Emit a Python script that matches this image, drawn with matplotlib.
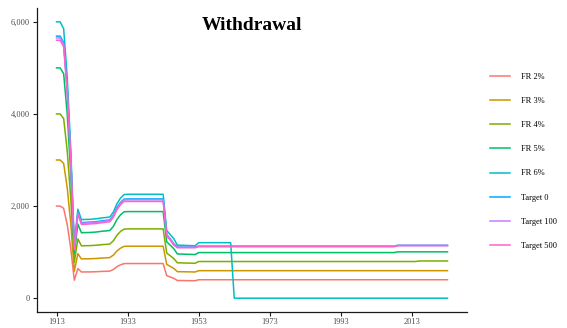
import matplotlib
matplotlib.use("Agg")
import matplotlib.pyplot as plt

years = list(range(1913, 2024))

fr2 = [
    2000, 2000, 1950, 1600, 1080, 390, 644, 568, 570, 570,
    572, 574, 578, 582, 584, 588, 624, 684, 724, 750,
    752, 752, 752, 752, 752, 752, 752, 752, 752, 752,
    752, 490, 460, 430, 384, 383, 382, 381, 380, 379,
    400, 400, 400, 400, 400, 400, 400, 400, 400, 400,
    400, 400, 400, 400, 400, 400, 400, 400, 400, 400,
    400, 400, 400, 400, 400, 400, 400, 400, 400, 400,
    400, 400, 400, 400, 400, 400, 400, 400, 400, 400,
    400, 400, 400, 400, 400, 400, 400, 400, 400, 400,
    400, 400, 400, 400, 400, 400, 400, 400, 400, 400,
    400, 400, 400, 400, 400, 400, 400, 400, 400, 400,
    400,
]
fr3 = [
    3000, 3000, 2925, 2400, 1620, 585, 966, 852, 855, 855,
    858, 861, 867, 873, 876, 882, 936, 1026, 1086, 1125,
    1128, 1128, 1128, 1128, 1128, 1128, 1128, 1128, 1128, 1128,
    1128, 735, 690, 645, 576, 575, 573, 572, 570, 569,
    597, 597, 597, 597, 597, 597, 597, 597, 597, 597,
    597, 597, 597, 597, 597, 597, 597, 597, 597, 597,
    597, 597, 597, 597, 597, 597, 597, 597, 597, 597,
    597, 597, 597, 597, 597, 597, 597, 597, 597, 597,
    597, 597, 597, 597, 597, 597, 597, 597, 597, 597,
    597, 597, 597, 597, 597, 597, 597, 597, 597, 597,
    597, 597, 597, 597, 597, 597, 597, 597, 597, 597,
    597,
]
fr4 = [
    4000, 4000, 3900, 3200, 2160, 780, 1288, 1136, 1140, 1140,
    1144, 1148, 1156, 1164, 1168, 1176, 1248, 1368, 1448, 1500,
    1504, 1504, 1504, 1504, 1504, 1504, 1504, 1504, 1504, 1504,
    1504, 980, 920, 860, 768, 766, 764, 762, 760, 758,
    796, 796, 796, 796, 796, 796, 796, 796, 796, 796,
    796, 796, 796, 796, 796, 796, 796, 796, 796, 796,
    796, 796, 796, 796, 796, 796, 796, 796, 796, 796,
    796, 796, 796, 796, 796, 796, 796, 796, 796, 796,
    796, 796, 796, 796, 796, 796, 796, 796, 796, 796,
    796, 796, 796, 796, 796, 796, 796, 796, 796, 796,
    796, 796, 808, 808, 808, 808, 808, 808, 808, 808,
    808,
]
fr5 = [
    5000, 5000, 4875, 4000, 2700, 975, 1610, 1420, 1425, 1425,
    1430, 1435, 1445, 1455, 1460, 1470, 1560, 1710, 1810, 1875,
    1880, 1880, 1880, 1880, 1880, 1880, 1880, 1880, 1880, 1880,
    1880, 1225, 1150, 1075, 960, 958, 955, 953, 950, 948,
    990, 990, 990, 990, 990, 990, 990, 990, 990, 990,
    990, 990, 990, 990, 990, 990, 990, 990, 990, 990,
    990, 990, 990, 990, 990, 990, 990, 990, 990, 990,
    990, 990, 990, 990, 990, 990, 990, 990, 990, 990,
    990, 990, 990, 990, 990, 990, 990, 990, 990, 990,
    990, 990, 990, 990, 990, 990, 1006, 1006, 1006, 1006,
    1006, 1006, 1006, 1006, 1006, 1006, 1006, 1006, 1006, 1006,
    1006,
]
fr6 = [
    6000, 6000, 5850, 4800, 3240, 1170, 1932, 1704, 1710, 1710,
    1716, 1722, 1734, 1746, 1752, 1764, 1872, 2052, 2172, 2250,
    2256, 2256, 2256, 2256, 2256, 2256, 2256, 2256, 2256, 2256,
    2256, 1470, 1380, 1290, 1152, 1150, 1147, 1144, 1140, 1138,
    1205, 1205, 1205, 1205, 1205, 1205, 1205, 1205, 1205, 1205,
    0, 0, 0, 0, 0, 0, 0, 0, 0, 0,
    0, 0, 0, 0, 0, 0, 0, 0, 0, 0,
    0, 0, 0, 0, 0, 0, 0, 0, 0, 0,
    0, 0, 0, 0, 0, 0, 0, 0, 0, 0,
    0, 0, 0, 0, 0, 0, 0, 0, 0, 0,
    0, 0, 0, 0, 0, 0, 0, 0, 0, 0,
    0,
]
target0 = [
    5690, 5690, 5550, 4550, 3050, 1080, 1860, 1640, 1645, 1650,
    1655, 1660, 1670, 1680, 1690, 1700, 1800, 1970, 2080, 2150,
    2155, 2155, 2155, 2155, 2155, 2155, 2155, 2155, 2155, 2155,
    2155, 1380, 1290, 1180, 1110, 1110, 1110, 1110, 1110, 1110,
    1130, 1130, 1130, 1130, 1130, 1130, 1130, 1130, 1130, 1130,
    1130, 1130, 1130, 1130, 1130, 1130, 1130, 1130, 1130, 1130,
    1130, 1130, 1130, 1130, 1130, 1130, 1130, 1130, 1130, 1130,
    1130, 1130, 1130, 1130, 1130, 1130, 1130, 1130, 1130, 1130,
    1130, 1130, 1130, 1130, 1130, 1130, 1130, 1130, 1130, 1130,
    1130, 1130, 1130, 1130, 1130, 1130, 1148, 1148, 1148, 1148,
    1148, 1148, 1148, 1148, 1148, 1148, 1148, 1148, 1148, 1148,
    1148,
]
target100 = [
    5650, 5650, 5510, 4520, 3030, 1070, 1845, 1625, 1630, 1635,
    1640, 1645, 1655, 1665, 1675, 1685, 1785, 1950, 2060, 2130,
    2135, 2135, 2135, 2135, 2135, 2135, 2135, 2135, 2135, 2135,
    2135, 1370, 1280, 1170, 1105, 1105, 1105, 1105, 1105, 1105,
    1125, 1125, 1125, 1125, 1125, 1125, 1125, 1125, 1125, 1125,
    1125, 1125, 1125, 1125, 1125, 1125, 1125, 1125, 1125, 1125,
    1125, 1125, 1125, 1125, 1125, 1125, 1125, 1125, 1125, 1125,
    1125, 1125, 1125, 1125, 1125, 1125, 1125, 1125, 1125, 1125,
    1125, 1125, 1125, 1125, 1125, 1125, 1125, 1125, 1125, 1125,
    1125, 1125, 1125, 1125, 1125, 1125, 1145, 1145, 1145, 1145,
    1145, 1145, 1145, 1145, 1145, 1145, 1145, 1145, 1145, 1145,
    1145,
]
target500 = [
    5600, 5600, 5460, 4480, 3000, 1050, 1830, 1600, 1605, 1610,
    1615, 1620, 1630, 1640, 1650, 1660, 1760, 1920, 2030, 2100,
    2100, 2100, 2100, 2100, 2100, 2100, 2100, 2100, 2100, 2100,
    2100, 1350, 1260, 1150, 1095, 1095, 1095, 1095, 1095, 1095,
    1118, 1118, 1118, 1118, 1118, 1118, 1118, 1118, 1118, 1118,
    1118, 1118, 1118, 1118, 1118, 1118, 1118, 1118, 1118, 1118,
    1118, 1118, 1118, 1118, 1118, 1118, 1118, 1118, 1118, 1118,
    1118, 1118, 1118, 1118, 1118, 1118, 1118, 1118, 1118, 1118,
    1118, 1118, 1118, 1118, 1118, 1118, 1118, 1118, 1118, 1118,
    1118, 1118, 1118, 1118, 1118, 1118, 1140, 1140, 1140, 1140,
    1140, 1140, 1140, 1140, 1140, 1140, 1140, 1140, 1140, 1140,
    1140,
]

series_names = ["FR 2%", "FR 3%", "FR 4%", "FR 5%", "FR 6%",
                "Target 0", "Target 100", "Target 500"]
series_values = [fr2, fr3, fr4, fr5, fr6, target0, target100, target500]
colors = ["#F8766D", "#CD9600", "#7CAE00", "#00BE67", "#00BFC4",
          "#00A9FF", "#C77CFF", "#FF61CC"]

x_ticks = [1913, 1933, 1953, 1973, 1993, 2013]
y_ticks = [0, 2000, 4000, 6000]
y_tick_labels = ["0", "2,000", "4,000", "6,000"]
title = "Withdrawal"

plt.rcParams["font.family"] = ["Liberation Serif", "DejaVu Serif"]

fig = plt.figure(figsize=(5.67, 3.28), dpi=100)
ax = fig.add_axes([37 / 567, 1 - 312 / 328, (467 - 37) / 567, (312 - 8) / 328])

for name, vals, col in zip(series_names, series_values, colors):
    ax.plot(years, vals, color=col, lw=1.1, label=name, solid_joinstyle="round")

ax.set_xlim(1913 - 5.5, 2023 + 5.5)
ax.set_ylim(-300, 6300)
ax.set_xticks(x_ticks)
ax.set_xticklabels([str(t) for t in x_ticks])
ax.set_yticks(y_ticks)
ax.set_yticklabels(y_tick_labels)

for s in ["top", "right"]:
    ax.spines[s].set_visible(False)
for s in ["left", "bottom"]:
    ax.spines[s].set_color("#1a1a1a")
    ax.spines[s].set_linewidth(0.9)
ax.tick_params(axis="both", length=3, width=0.8, color="#1a1a1a",
               labelsize=6, labelcolor="#4D4D4D", pad=2)
ax.tick_params(axis="x", pad=1.5)

ax.text(0.5, 0.944, title, transform=ax.transAxes, ha="center", va="center",
        fontsize=14, fontweight="bold", color="black")

handles, labels = ax.get_legend_handles_labels()
fig.legend(handles, labels, loc="center left", bbox_to_anchor=(490 / 567, 0.508),
           frameon=False, fontsize=6, labelspacing=1.93, handlelength=2.4,
           handletextpad=1.3, borderpad=0, borderaxespad=0)

fig.savefig("out.png", dpi=100)
